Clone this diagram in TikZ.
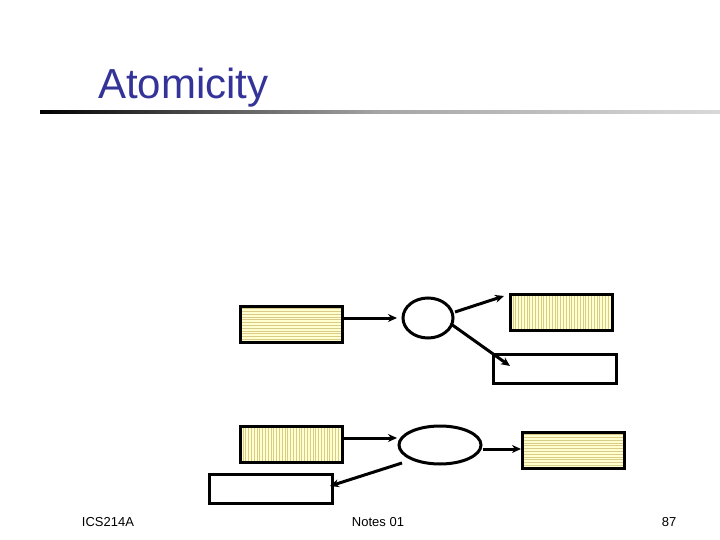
\documentclass[tikz,border=0pt]{standalone}
\usepackage{fontspec}
\setmainfont{Liberation Sans}
\usetikzlibrary{arrows.meta,shapes.geometric}
\definecolor{boxfill}{HTML}{FFFFD0}
\definecolor{stripe}{HTML}{D8CC88}
\definecolor{titleblue}{HTML}{333399}
\tikzset{
  hbox/.style={draw, line width=3pt, fill=boxfill, minimum width=102pt, minimum height=36pt, inner sep=0pt,
    path picture={\foreach \k in {0,...,13}{\draw[stripe, line width=0.6pt] ([yshift=\k*2.8pt]path picture bounding box.south west) -- ([yshift=\k*2.8pt]path picture bounding box.south east);}}},
  vbox/.style={draw, line width=3pt, fill=boxfill, minimum width=102pt, minimum height=36pt, inner sep=0pt,
    path picture={\foreach \k in {0,...,37}{\draw[stripe, line width=0.6pt] ([xshift=\k*2.8pt]path picture bounding box.south west) -- ([xshift=\k*2.8pt]path picture bounding box.north west);}}},
  wbox/.style={draw, line width=3pt, fill=white, minimum width=123pt, minimum height=29pt, inner sep=0pt},
  circ/.style={draw, line width=3pt, ellipse, inner sep=0pt},
  arr/.style={line width=3pt, -{Stealth[length=9pt,width=8pt]}},
  foot/.style={font=\fontsize{13pt}{15pt}\selectfont}
}
\begin{document}
\begin{tikzpicture}[x=1pt,y=-1pt]
\useasboundingbox (0,0) rectangle (720,540);
\node[font=\fontsize{42pt}{48pt}\selectfont, text=titleblue, anchor=base west, inner sep=0pt] (title) at (98,99) {Atomicity};
\shade[left color=black, right color=white!85!black, middle color=gray!70] (40,110.5) rectangle (720,113.5);
\node[hbox] (b1) at (291,324) {};
\node[circ, minimum width=50pt, minimum height=40pt] (e1) at (428,318) {};
\node[vbox] (b2) at (561,312) {};
\node[wbox] (b3) at (555,368.5) {};
\node[vbox] (b4) at (291,444.5) {};
\node[circ, minimum width=82pt, minimum height=38pt] (e2) at (440,445) {};
\node[hbox] (b5) at (573,450) {};
\node[wbox] (b6) at (270.5,488.5) {};
\coordinate (a1) at (397,318);
\coordinate (a2) at (504,296);
\coordinate (a3) at (510,366);
\coordinate (a4) at (397,438);
\coordinate (a5) at (521,449);
\coordinate (a6) at (330,486);
\coordinate (s2) at (455,312);
\coordinate (s3) at (451,324);
\coordinate (s6) at (402,463);
\draw[arr] (b1.east |- a1) -- (a1);
\draw[arr] (s2) -- (a2);
\draw[arr] (s3) -- (a3);
\draw[arr] (b4.east |- a4) -- (a4);
\draw[arr] (e2.east |- a5) -- (a5);
\draw[arr] (s6) -- (a6);
\node[foot] (f1) at (108,522) {ICS214A};
\node[foot] (f2) at (378,522) {Notes 01};
\node[foot] (f3) at (669,522) {87};
\end{tikzpicture}
\end{document}
